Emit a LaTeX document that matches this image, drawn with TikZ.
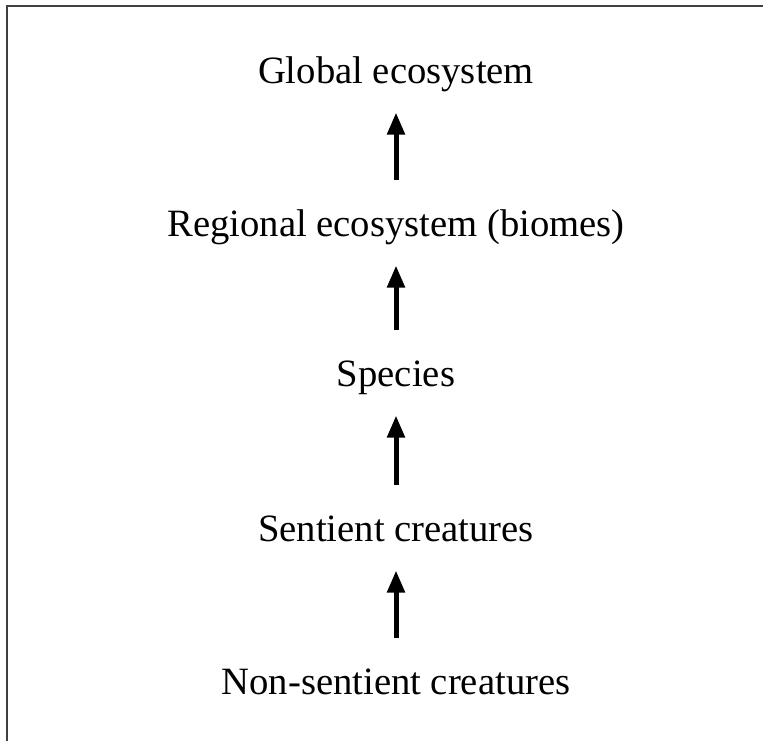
\documentclass[tikz,border=0pt]{standalone}
\usepackage{fontspec}
\setmainfont{Liberation Serif}
\usetikzlibrary{arrows.meta}
\begin{document}
\begin{tikzpicture}[every node/.style={font=\fontsize{22}{26}\selectfont, inner sep=0pt, anchor=base, text height=15.4pt, text depth=5.5pt},
    uparrow/.style={-{Triangle[length=0.44cm,width=0.34cm]}, line width=0.1cm, shorten <=0.6cm, shorten >=0.37cm}]
    \useasboundingbox (0,0) rectangle (15.26,-14.82);
    % Frame
    \draw[line width=0.04cm, black!75] (0.13,-14.82) -- (0.13,-0.13) -- (15.26,-0.13);
    % Levels
    \node (global) at (7.92,-1.68) {Global ecosystem};
    \node (regional) at (7.92,-4.74) {Regional ecosystem (biomes)};
    \node (species) at (7.92,-7.74) {Species};
    \node (sentient) at (7.92,-10.84) {Sentient creatures};
    \node (nonsentient) at (7.92,-13.9) {Non-sentient creatures};
    % Arrows
    \draw[uparrow] (regional.north) -- (global.south);
    \draw[uparrow] (species.north) -- (regional.south);
    \draw[uparrow] (sentient.north) -- (species.south);
    \draw[uparrow] (nonsentient.north) -- (sentient.south);
\end{tikzpicture}
\end{document}
